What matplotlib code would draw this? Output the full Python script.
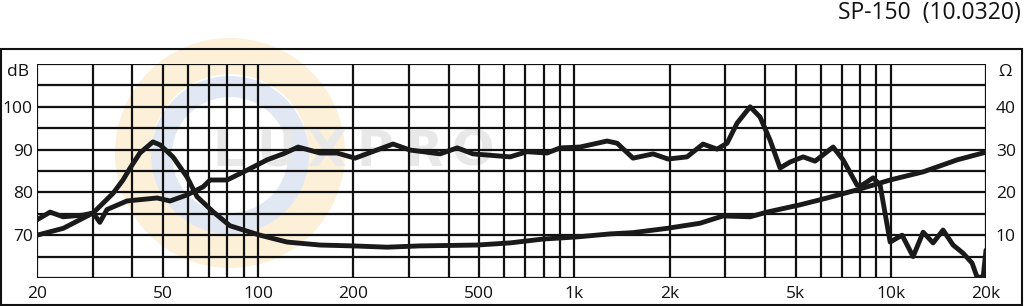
import matplotlib.pyplot as plt
from matplotlib.patches import Rectangle, Wedge

plt.rcParams['font.family'] = ['Open Sans', 'DejaVu Sans']

# frequency response (dB)
spl_freq = [20, 22, 24.2, 28, 30.1, 31.6, 33.3, 38.5, 47.9, 52.7, 59.6, 67, 70.5, 79.8,
            92.3, 106.7, 119.9, 133.8, 157, 177.6, 202.5, 267, 302, 376, 426, 478, 626,
            708, 819, 901, 1042, 1268, 1364, 1532, 1772, 1977, 2270, 2550, 2824, 3038,
            3268, 3592, 3862, 4154, 4468, 4806, 5282, 5764, 6572, 7068, 7826, 8116, 8794,
            9254, 9954, 10860, 11766, 12656, 13608, 14634, 15740, 16926, 18072, 18742,
            19582, 20000]
spl_db = [73.6, 75.4, 74.3, 74.7, 75.2, 73.0, 76.0, 78.0, 78.7, 78.0, 79.4, 81.3, 82.9, 82.9,
          85.2, 87.6, 89.0, 90.6, 89.2, 89.2, 88.0, 91.3, 89.9, 89.0, 90.4, 89.0, 88.3,
          89.5, 89.2, 90.4, 90.6, 92.0, 91.5, 88.0, 89.0, 87.8, 88.3, 91.3, 90.1, 91.5,
          96.2, 100.0, 97.6, 92.2, 85.7, 87.1, 88.3, 87.3, 90.6, 87.6, 81.7, 81.7, 83.4,
          81.7, 68.4, 70.0, 65.0, 70.7, 68.2, 71.2, 67.7, 65.8, 63.5, 60.2,
          60.2, 66.5]

# impedance (ohm)
imp_freq = [20, 24.2, 30.1, 34.8, 37.4, 39.4, 42.3, 46.5, 49, 53.8, 59.6, 64.1, 72, 81.5,
            101.4, 123.4, 157, 199.5, 255.6, 325, 492, 626, 796, 1019, 1296, 1532, 1963,
            2496, 2950, 3592, 4064, 5170, 6292, 7826, 9954, 12656, 16204, 20000]
imp_ohm = [10.0, 11.6, 15.2, 19.8, 22.9, 25.7, 29.2, 31.8, 31.1, 28.3, 23.6, 19.0, 15.5, 12.2,
           10.0, 8.4, 7.7, 7.5, 7.2, 7.5, 7.7, 8.2, 9.1, 9.6, 10.3, 10.6, 11.6,
           12.8, 14.5, 14.3, 15.4, 17.1, 18.7, 20.6, 22.9, 24.8, 27.6, 29.4]

x_grid = [20, 30, 40, 50, 60, 70, 80, 90, 100, 200, 300, 400, 500, 600, 700, 800, 900,
          1000, 2000, 3000, 4000, 5000, 6000, 7000, 8000, 9000, 10000, 20000]
x_ticks = [20, 50, 100, 200, 500, 1000, 2000, 5000, 10000, 20000]
x_labels = ['20', '50', '100', '200', '500', '1k', '2k', '5k', '10k', '20k']
db_ticks = [70, 80, 90, 100]
ohm_ticks = [10, 20, 30, 40]

W, H = 1024, 306
fig = plt.figure(figsize=(W / 100, H / 100), dpi=100)

# faint watermark logo behind the chart (pixel units via a helper axes)
wm = fig.add_axes([0, 0, 1, 1], zorder=0)
wm.set_xlim(0, W)
wm.set_ylim(H, 0)
wm.axis('off')
wm.add_patch(Wedge((230, 153), 115, 0, 360, width=36, facecolor='#fcf0d9', edgecolor='none'))
wm.add_patch(Wedge((230, 155), 79, 0, 360, width=21, facecolor='#e1e8f4', edgecolor='none'))
for i, ch in enumerate('LUXPRO'):
    wm.text(228 + 49 * i, 152, ch, ha='center', va='center', fontsize=36, fontweight='bold',
            color='#e8e8e8', family='DejaVu Sans')

ax = fig.add_axes([37 / W, 1 - 278 / H, 949 / W, 214 / H], zorder=1)
ax.patch.set_visible(False)
ax2 = ax.twinx()

ax.set_xscale('log')
ax.set_xlim(20, 20000)
ax.set_ylim(60, 110)
ax2.set_ylim(0, 50)

for f in x_grid:
    ax.axvline(f, color='#111111', lw=1.6, zorder=1)
for v in range(60, 111, 5):
    ax.axhline(v, color='#111111', lw=1.6, zorder=1)

ax.plot(spl_freq, spl_db, color='#1a1a1a', lw=3.5, solid_joinstyle='round',
        solid_capstyle='round', zorder=3)
ax2.plot(imp_freq, imp_ohm, color='#1a1a1a', lw=3.5, solid_joinstyle='round',
         solid_capstyle='round', zorder=3)

ax.set_xticks(x_ticks)
ax.set_xticklabels(x_labels)
ax.xaxis.set_minor_locator(plt.NullLocator())
ax.set_yticks(db_ticks)
ax2.set_yticks(ohm_ticks)
ax.tick_params(axis='x', length=0, pad=6, labelsize=12.5, colors='#111111')
ax.tick_params(axis='y', length=0, pad=3, labelsize=12.5, colors='#111111')
ax2.tick_params(axis='y', length=0, pad=7, labelsize=12.5, colors='#111111')
for a in (ax, ax2):
    for s in a.spines.values():
        s.set_visible(False)

fig.text(18 / W, 1 - 72 / H, 'dB', ha='center', va='center', fontsize=12.5, color='#111111')
fig.text(1005 / W, 1 - 72 / H, 'Ω', ha='center', va='center', fontsize=12.5, color='#111111')
fig.text(1021 / W, 1 - 13 / H, 'SP-150  (10.0320)', ha='right', va='center',
         fontsize=16.5, color='#111111')

fig.patches.append(Rectangle((1 / W, 1 / H), 1021 / W, 256 / H, fill=False,
                             lw=1.5, edgecolor='#111111', transform=fig.transFigure))

fig.savefig('out.png', dpi=100)
